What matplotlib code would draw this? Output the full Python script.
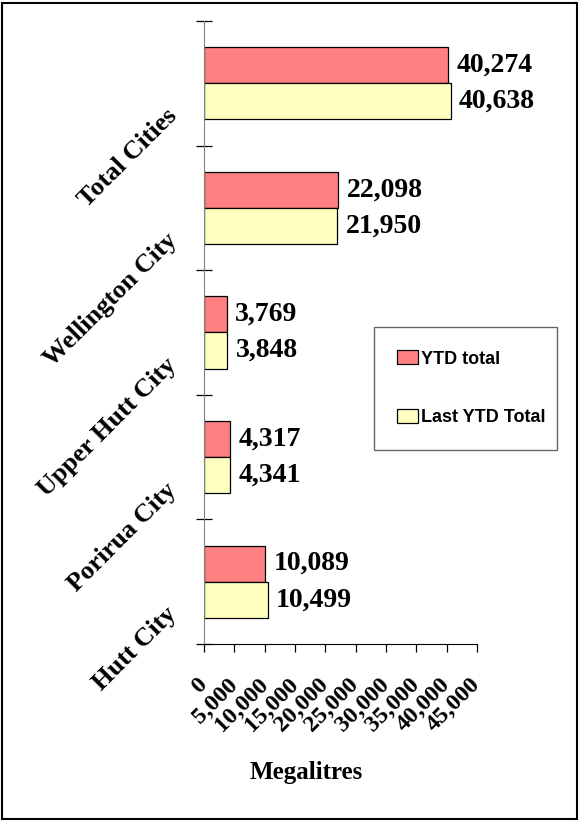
import matplotlib
matplotlib.use("Agg")
import matplotlib.pyplot as plt
import matplotlib.transforms as mtransforms
from matplotlib.legend_handler import HandlerPatch
import numpy as np

categories = ["Hutt City", "Porirua City", "Upper Hutt City", "Wellington City", "Total Cities"]
ytd_total = [10089, 4317, 3769, 22098, 40274]
last_ytd_total = [10499, 4341, 3848, 21950, 40638]
series_names = ["YTD total", "Last YTD Total"]
x_ticks = list(range(0, 45001, 5000))
x_label = "Megalitres"

SERIF = "Liberation Serif"
SANS = "Liberation Sans"

fig = plt.figure(figsize=(5.8, 8.21), dpi=100)
ax = fig.add_axes([204/580, 1-644/821, 273/580, 623/821])

y = np.arange(len(categories))
h = 0.29
b1 = ax.barh(y + h/2, ytd_total, height=h, color="#FF8080", edgecolor="black", linewidth=0.9, label=series_names[0])
b2 = ax.barh(y - h/2, last_ytd_total, height=h, color="#FFFFC0", edgecolor="black", linewidth=0.9, label=series_names[1])

for bars, vals in ((b1, ytd_total), (b2, last_ytd_total)):
    for rect, v in zip(bars, vals):
        ax.annotate(f"{v:,}", (rect.get_width(), rect.get_y() + rect.get_height()/2),
                    xytext=(6, 0), textcoords="offset points", ha="left", va="center",
                    fontsize=20, fontweight="bold", family=SERIF)

ax.set_xlim(0, 45000)
ax.set_ylim(-0.5, len(categories) - 0.5)
ax.set_xticks(x_ticks)
ax.set_xticklabels([f"{t:,}" for t in x_ticks], rotation=45, ha="right", va="center",
                   rotation_mode="anchor", fontsize=17.5, fontweight="bold", family=SERIF)
ax.set_yticks(np.arange(len(categories) + 1) - 0.5)
ax.set_yticklabels([])
ax.set_yticks(y, minor=True)
ax.set_yticklabels(categories, minor=True, rotation=45, ha="right", va="center",
                   rotation_mode="anchor", fontsize=19, fontweight="bold", family=SERIF)
ax.tick_params(axis="y", which="minor", length=0, pad=22)
ax.tick_params(axis="y", which="major", direction="inout", length=12, width=0.9, color="black")
ax.tick_params(axis="x", direction="out", length=6, width=0.9, pad=21)

off = mtransforms.ScaledTranslation(0, -21/72, fig.dpi_scale_trans)
for lbl in ax.get_yticklabels(minor=True):
    lbl.set_transform(lbl.get_transform() + off)

for s in ("top", "right"):
    ax.spines[s].set_visible(False)
ax.spines["left"].set_color("#808080")
ax.spines["bottom"].set_color("black")

ax.set_xlabel(x_label, fontsize=18, fontweight="bold", family=SERIF)
ax.xaxis.set_label_coords((306-204)/273, (644-772)/623)
ax.xaxis.label.set_va("center")


def square_patch(legend, orig_handle, xdescent, ydescent, width, height, fontsize):
    return plt.Rectangle((-xdescent + width - height, -ydescent), height, height)


leg = fig.legend(handles=[b1, b2], loc="upper left",
                 bbox_to_anchor=(374/580, 1-446/821, 183/580, 119/821),
                 mode="expand", borderaxespad=0, fancybox=False, frameon=True,
                 prop={"family": SANS, "weight": "bold", "size": 13},
                 handlelength=1.15, handleheight=0.8, handletextpad=0.15,
                 labelspacing=2.3, borderpad=1.3,
                 handler_map={plt.Rectangle: HandlerPatch(patch_func=square_patch)})
leg.get_frame().set_edgecolor("#404040")
leg.get_frame().set_linewidth(1.0)

fig.patches.append(plt.Rectangle((2/580, 2/821), 575/580, 816/821, transform=fig.transFigure,
                                 fill=False, edgecolor="black", linewidth=1.5))

fig.savefig("out.png", dpi=100)
